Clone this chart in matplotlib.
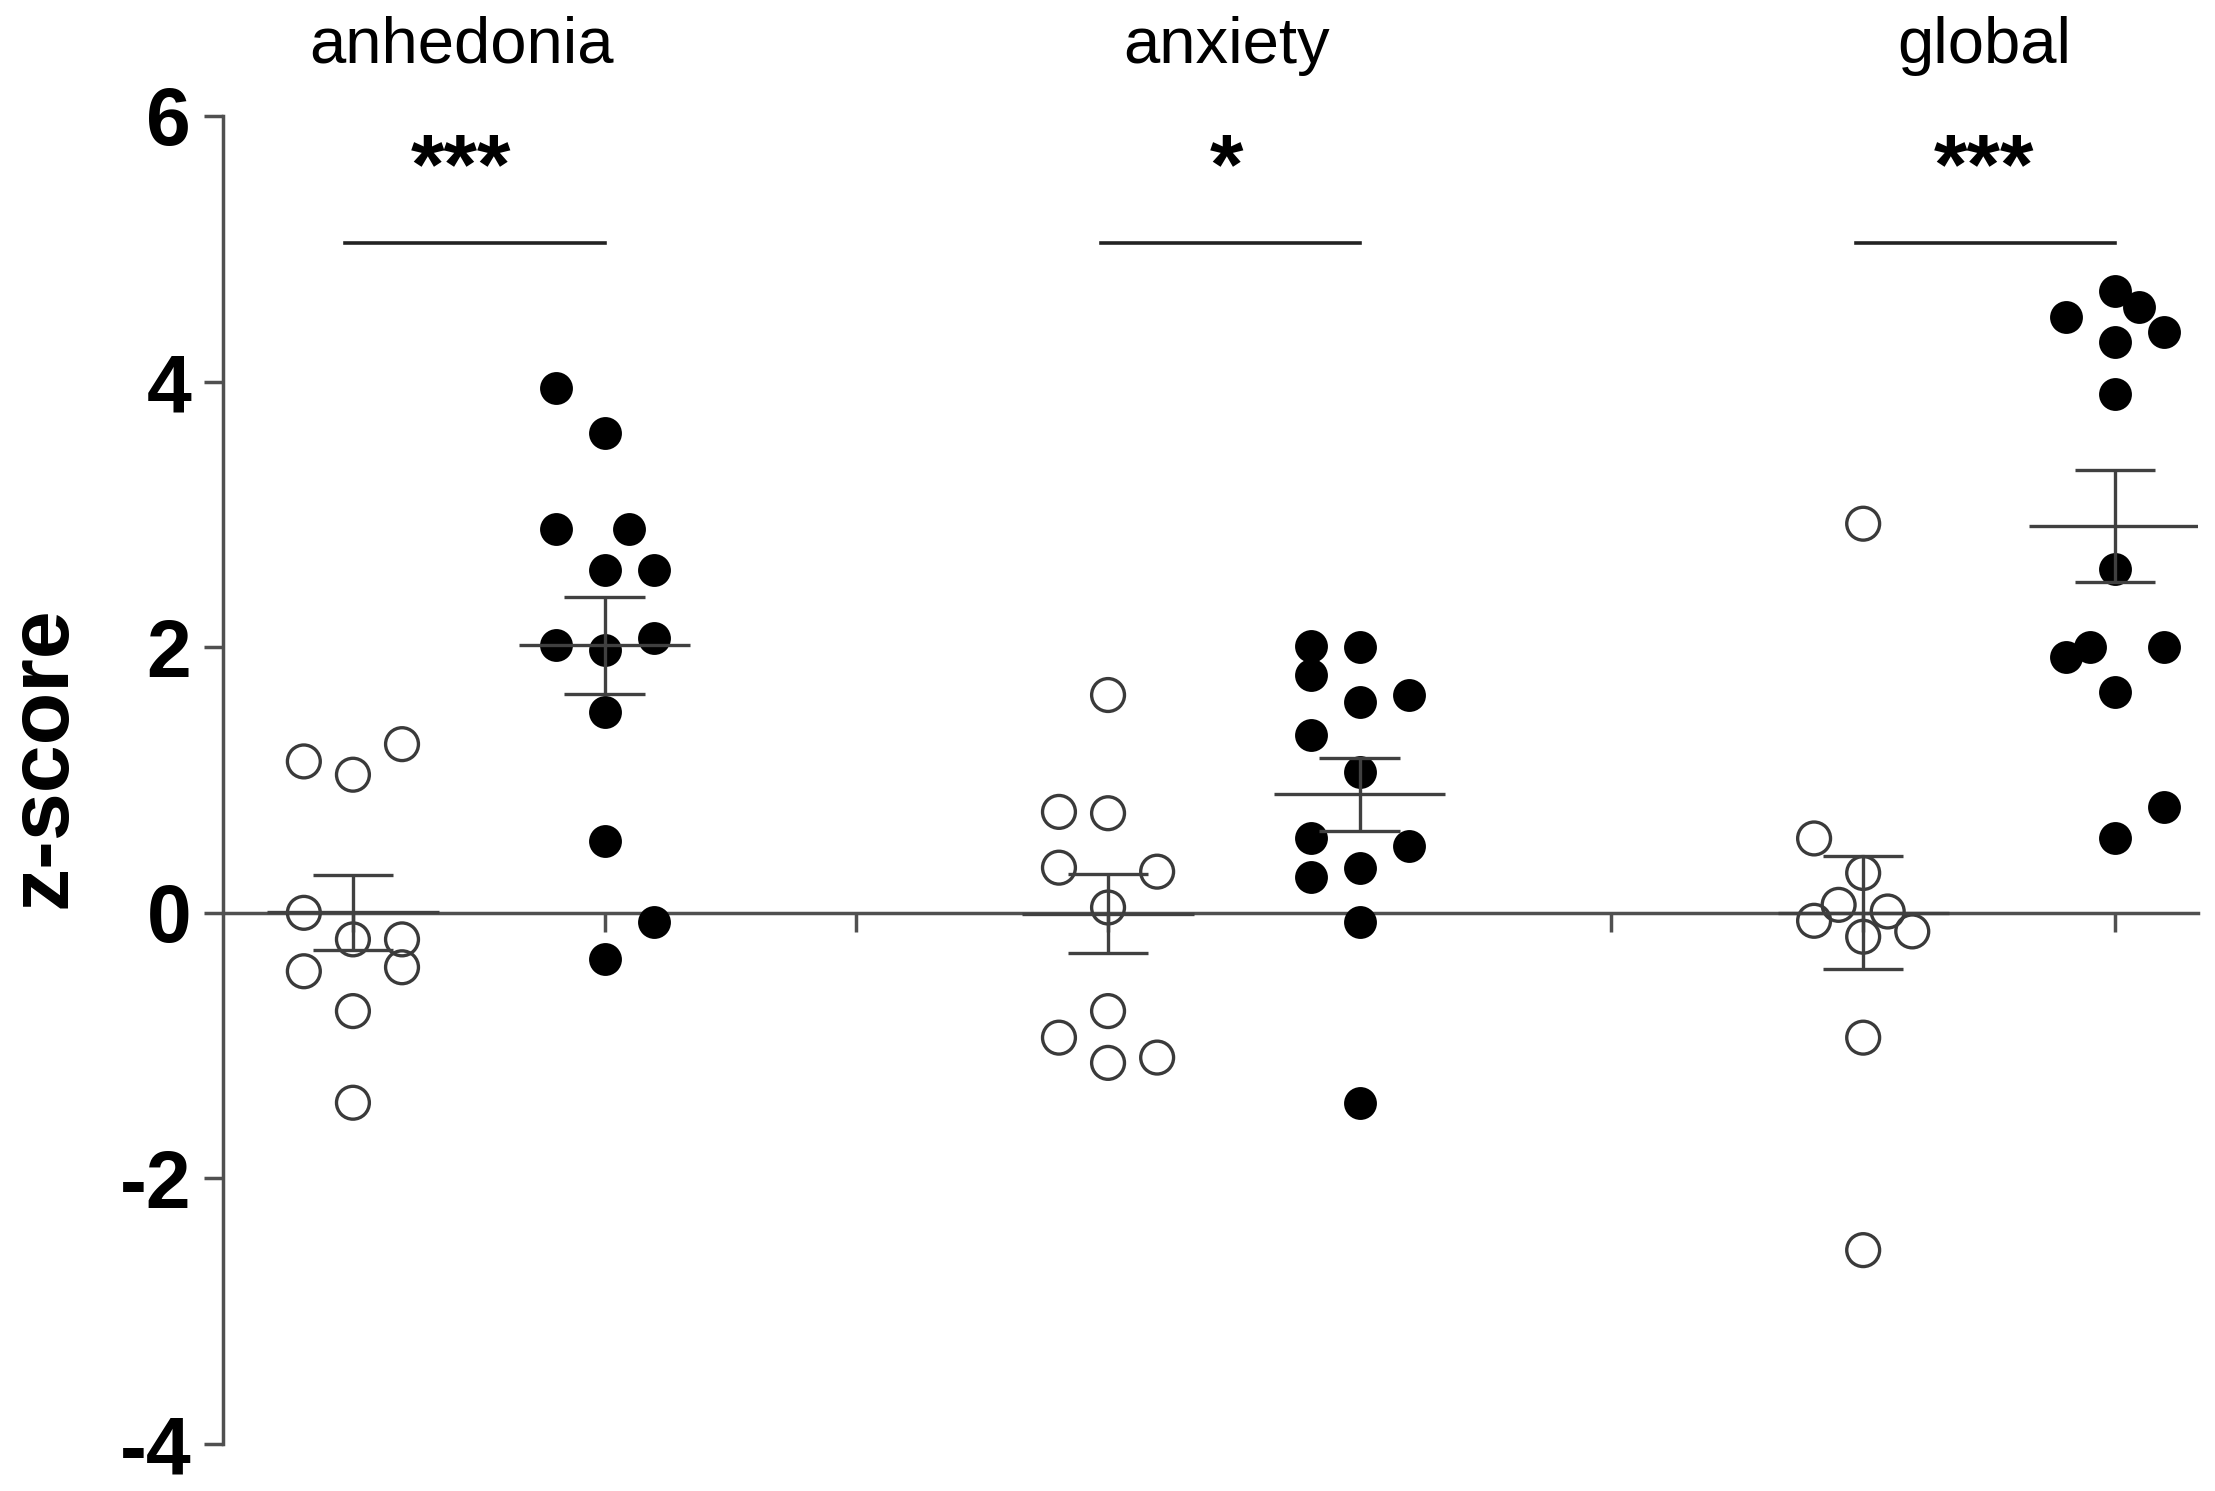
import numpy as np
import matplotlib.pyplot as plt

plt.rcParams['font.family'] = ['Liberation Sans', 'DejaVu Sans']
plt.rcParams['axes.unicode_minus'] = False

# panels and significance marks
groups = ['anhedonia', 'anxiety', 'global']
stars = ['***', '*', '***']

# z-scores (controls = open, patients = filled)
anh_ctrl = [1.14, 1.04, 1.27, 0.00, -0.20, -0.20, -0.44, -0.41, -0.74, -1.43]
anh_pat = [3.95, 3.61, 2.89, 2.89, 2.58, 2.58, 2.02, 1.98, 2.07, 1.51, 0.54, -0.07, -0.35]
anx_ctrl = [1.64, 0.76, 0.75, 0.34, 0.31, 0.04, -0.74, -0.94, -1.13, -1.09]
anx_pat = [2.01, 2.00, 1.79, 1.59, 1.64, 1.34, 1.06, 0.56, 0.50, 0.27, 0.34, -0.07, -1.43]
glob_ctrl = [2.93, 0.56, 0.30, 0.06, 0.01, -0.06, -0.18, -0.14, -0.94, -2.54]
glob_pat = [4.68, 4.56, 4.49, 4.37, 4.30, 3.91, 2.59, 1.93, 2.00, 2.00, 1.66, 0.80, 0.56]

# horizontal scatter slot of each point (-1 left, 0 centre, 1 right)
anh_ctrl_slot = [-1, 0, 1, -1, 0, 1, -1, 1, 0, 0]
anh_pat_slot = [-1, 0, -1, 0.5, 0, 1, -1, 0, 1, 0, 0, 1, 0]
anx_ctrl_slot = [0, -1, 0, -1, 1, 0, 0, -1, 0, 1]
anx_pat_slot = [-1, 0, -1, 0, 1, -1, 0, -1, 1, -1, 0, 0, 0]
glob_ctrl_slot = [0, -1, 0, -0.5, 0.5, -1, 0, 1, 0, 0]
glob_pat_slot = [0, 0.5, -1, 1, 0, 0, 0, -1, -0.5, 1, 0, 1, 0]

ctrl_data = [anh_ctrl, anx_ctrl, glob_ctrl]
pat_data = [anh_pat, anx_pat, glob_pat]
ctrl_slots = [anh_ctrl_slot, anx_ctrl_slot, glob_ctrl_slot]
pat_slots = [anh_pat_slot, anx_pat_slot, glob_pat_slot]

ctrl_pos = [1, 4, 7]
pat_pos = [2, 5, 8]
label_shift = [-0.07, -0.03, -0.02]

axis_col = '#505050'
bar_col = '#404040'

fig = plt.figure(figsize=(22.15, 14.91), dpi=100)
ax = fig.add_axes([0.1007, 0.0315, 0.8916, 0.8907])
ax.set_xlim(0.484, 8.33)
ax.set_ylim(-4, 6)


def draw_group(x0, vals, slots, filled):
    vals = np.asarray(vals)
    xs = x0 + 0.195 * np.asarray(slots)
    if filled:
        ax.scatter(xs, vals, s=560, c='black', linewidths=0, zorder=3)
    else:
        ax.scatter(xs, vals, s=560, facecolors='none', edgecolors='#3a3a3a',
                   linewidths=2.4, zorder=3)
    m = vals.mean()
    sem = vals.std(ddof=1) / np.sqrt(len(vals))
    ax.hlines(m, x0 - 0.34, x0 + 0.34, color=bar_col, lw=2.4, zorder=4)
    ax.hlines([m - sem, m + sem], x0 - 0.16, x0 + 0.16, color=bar_col, lw=2.4, zorder=4)
    ax.vlines(x0, m - sem, m + sem, color=bar_col, lw=2.4, zorder=4)


for i in range(3):
    draw_group(ctrl_pos[i], ctrl_data[i], ctrl_slots[i], False)
    draw_group(pat_pos[i], pat_data[i], pat_slots[i], True)
    mid = (ctrl_pos[i] + pat_pos[i]) / 2 + label_shift[i]
    ax.plot([ctrl_pos[i] - 0.03, pat_pos[i] + 0.0], [5.04, 5.04],
            color='#222222', lw=2.6, clip_on=False)
    ax.text(mid, 5.42, stars[i], ha='center', va='baseline',
            fontsize=62, fontweight='bold')
    ax.text(mid, 6.40, groups[i], ha='center', va='baseline',
            fontsize=47, clip_on=False)

# GraphPad-style axes
for s in ['top', 'right']:
    ax.spines[s].set_visible(False)
ax.spines['bottom'].set_position(('data', 0))
ax.spines['left'].set_bounds(-4, 6)
for s in ['left', 'bottom']:
    ax.spines[s].set_color(axis_col)
    ax.spines[s].set_linewidth(2.5)

ax.set_yticks([-4, -2, 0, 2, 4, 6])
ax.set_xticks(range(1, 9))
ax.set_xticklabels([])
ax.tick_params(axis='y', length=14, width=2.5, color=axis_col, pad=9,
               labelsize=58)
ax.tick_params(axis='x', length=14, width=2.5, color=axis_col, direction='out')
for lab in ax.get_yticklabels():
    lab.set_fontweight('bold')

fig.text(43 / 2215, 1 - 757 / 1491, 'z-score', rotation=90, fontsize=62,
         fontweight='bold', ha='center', va='center')

fig.savefig('out.png', dpi=100)
